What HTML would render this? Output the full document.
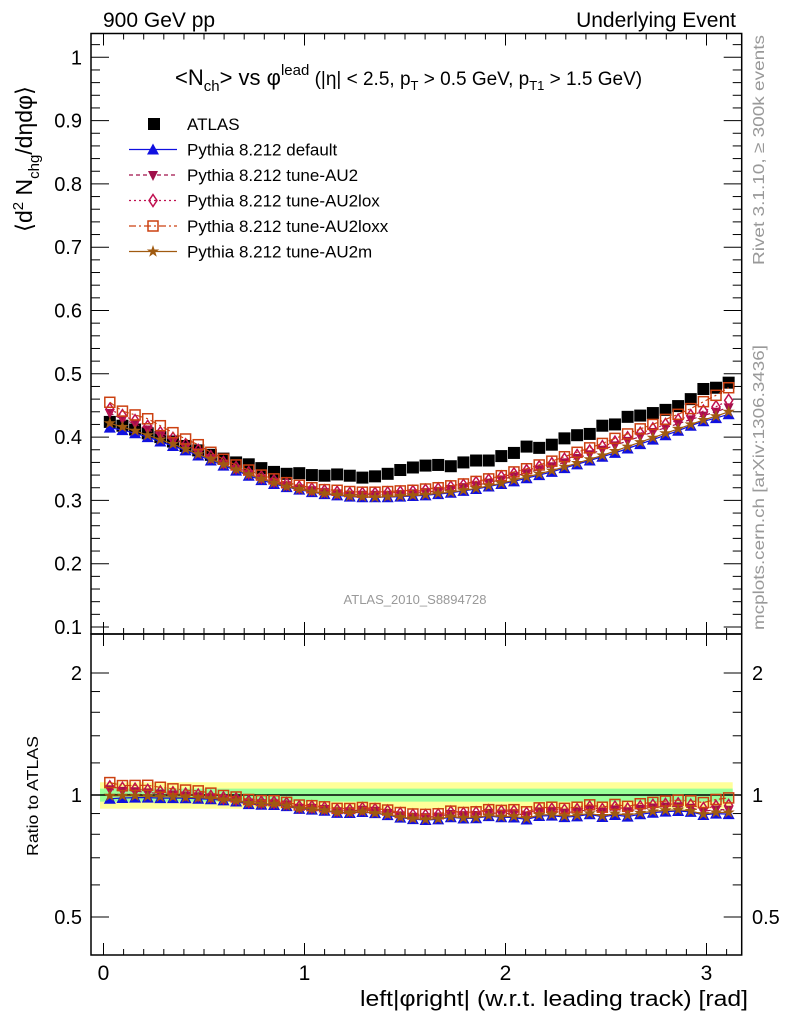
<!DOCTYPE html>
<html><head><meta charset="utf-8"><style>
html,body{margin:0;padding:0;background:#fff;}
svg{display:block;font-family:"Liberation Sans",sans-serif;}
</style></head><body>
<svg id="c" width="786" height="1024" viewBox="0 0 786 1024" xmlns="http://www.w3.org/2000/svg">
<text x="103" y="27" font-size="21">900 GeV pp</text>
<text x="736" y="27" font-size="21" text-anchor="end">Underlying Event</text>
<text transform="translate(764,35) rotate(-90)" font-size="16" fill="#999" text-anchor="end" textLength="230" lengthAdjust="spacingAndGlyphs">Rivet 3.1.10, ≥ 300k events</text>
<text transform="translate(764,630) rotate(-90)" font-size="16" fill="#999" textLength="285" lengthAdjust="spacingAndGlyphs">mcplots.cern.ch [arXiv:1306.3436]</text>
<text transform="translate(32,232) rotate(-90)" font-size="23">⟨d<tspan font-size="15" dy="-9">2</tspan><tspan dy="9"> N</tspan><tspan font-size="15" dy="7">chg</tspan><tspan dy="-7">/dηdφ⟩</tspan></text>
<text transform="translate(38,856) rotate(-90)" font-size="16" textLength="120" lengthAdjust="spacingAndGlyphs">Ratio to ATLAS</text>
<text x="748" y="1006" font-size="22" text-anchor="end" textLength="388" lengthAdjust="spacingAndGlyphs">left|φright| (w.r.t. leading track) [rad]</text>
<text x="175" y="85" font-size="22">&lt;N<tspan font-size="15" dy="6">ch</tspan><tspan dy="-6">&gt; vs φ</tspan><tspan font-size="15" dy="-10">lead</tspan><tspan font-size="19" dy="10"> (|η| &lt; 2.5, p</tspan><tspan font-size="13" dy="5">T</tspan><tspan font-size="19" dy="-5"> &gt; 0.5 GeV, p</tspan><tspan font-size="13" dy="5">T1</tspan><tspan font-size="19" dy="-5"> &gt; 1.5 GeV)</tspan></text>
<text x="415" y="604" font-size="13" fill="#999" text-anchor="middle">ATLAS_2010_S8894728</text>
<g id="bands"></g>
<g id="axes"></g>
<g id="marks"></g>
<g id="legend"></g>
</svg>
<script>
const binCenters=[];for(let i=0;i<50;i++)binCenters.push((i+0.5)*Math.PI/50);
const atlas=[0.424,0.418,0.412,0.406,0.400,0.393,0.386,0.379,0.372,0.366,0.360,0.357,0.351,0.345,0.342,0.343,0.340,0.339,0.341,0.339,0.336,0.338,0.342,0.348,0.352,0.355,0.356,0.354,0.360,0.363,0.363,0.370,0.375,0.385,0.383,0.388,0.398,0.403,0.405,0.418,0.420,0.432,0.434,0.438,0.443,0.449,0.460,0.476,0.478,0.486];
const pyDefault=[0.415,0.411,0.406,0.400,0.393,0.386,0.379,0.371,0.363,0.355,0.347,0.339,0.332,0.326,0.321,0.317,0.313,0.310,0.308,0.306,0.305,0.305,0.305,0.306,0.307,0.308,0.310,0.312,0.315,0.318,0.322,0.326,0.330,0.335,0.340,0.345,0.351,0.357,0.363,0.369,0.375,0.382,0.389,0.396,0.403,0.410,0.418,0.425,0.430,0.436];
const pyAU2=[0.438,0.428,0.421,0.412,0.403,0.394,0.385,0.376,0.367,0.358,0.350,0.342,0.335,0.329,0.324,0.319,0.316,0.313,0.311,0.309,0.309,0.309,0.309,0.310,0.311,0.313,0.315,0.318,0.321,0.324,0.328,0.333,0.338,0.343,0.349,0.354,0.360,0.367,0.373,0.380,0.387,0.394,0.401,0.408,0.415,0.421,0.428,0.434,0.440,0.447];
const pyAU2lox=[0.444,0.434,0.426,0.417,0.407,0.398,0.388,0.379,0.369,0.360,0.352,0.344,0.337,0.331,0.326,0.321,0.318,0.315,0.313,0.311,0.311,0.311,0.312,0.313,0.314,0.316,0.318,0.321,0.324,0.328,0.332,0.337,0.342,0.347,0.353,0.358,0.365,0.371,0.378,0.385,0.392,0.399,0.406,0.413,0.420,0.427,0.434,0.441,0.448,0.458];
const pyAU2loxx=[0.455,0.441,0.435,0.429,0.418,0.407,0.397,0.388,0.376,0.365,0.356,0.348,0.340,0.334,0.328,0.324,0.320,0.317,0.316,0.314,0.313,0.313,0.314,0.315,0.316,0.318,0.320,0.323,0.326,0.330,0.334,0.339,0.345,0.350,0.356,0.362,0.369,0.376,0.383,0.390,0.398,0.405,0.413,0.420,0.428,0.436,0.445,0.456,0.466,0.478];
const pyAU2m=[0.422,0.416,0.410,0.403,0.396,0.389,0.381,0.373,0.365,0.357,0.349,0.341,0.334,0.328,0.322,0.318,0.314,0.311,0.309,0.307,0.306,0.305,0.306,0.307,0.308,0.309,0.311,0.313,0.316,0.319,0.323,0.327,0.332,0.337,0.342,0.347,0.353,0.359,0.365,0.371,0.378,0.385,0.392,0.399,0.406,0.413,0.420,0.427,0.433,0.440];
const xTicks=[0,1,2,3];
const yTicks=[0.1,0.2,0.3,0.4,0.5,0.6,0.7,0.8,0.9,1];
const yTickLabels=["0.1","0.2","0.3","0.4","0.5","0.6","0.7","0.8","0.9","1"];
const rTicks=[0.5,1,2];
const rTickLabels=["0.5","1","2"];
const yellowBand=[0.925,1.075];
const greenBand=[0.963,1.037];

const L=91,R=741.7,T=33.5,MID=634,B=955;
const X=v=>103.5+v*201;
const Y=v=>627-(v-0.1)*633;
const RY=v=>795-Math.log2(v)*122;
const NS='http://www.w3.org/2000/svg';
function mk(tag,at,par){const e=document.createElementNS(NS,tag);for(const k in at)e.setAttribute(k,at[k]);par.appendChild(e);return e;}
const gA=document.getElementById('axes'),gM=document.getElementById('marks'),gB=document.getElementById('bands'),gL=document.getElementById('legend');

let yb=mk('rect',{x:L+9,y:RY(yellowBand[1]),width:R-L-18,height:RY(yellowBand[0])-RY(yellowBand[1]),fill:'#ffff99'},gB);


let gb=mk('rect',{x:L+9,y:RY(greenBand[1]),width:R-L-18,height:RY(greenBand[0])-RY(greenBand[1]),fill:'#99ff99'},gB);


let one=mk('line',{x1:L,x2:R,y1:RY(1),y2:RY(1),stroke:'#000','stroke-width':1.5},gB);



let f1=mk('rect',{x:L,y:T,width:R-L,height:MID-T,fill:'none',stroke:'#000','stroke-width':1.5},gA);


let f2=mk('rect',{x:L,y:MID,width:R-L,height:B-MID,fill:'none',stroke:'#000','stroke-width':1.5},gA);



for(let v=0;v<=3.15;v+=0.1){const maj=Math.abs(v-Math.round(v))<1e-6;const len=maj?12:6;const x=X(v);
 for(const [y0,d] of [[T,1],[MID,-1],[MID,1],[B,-1]]){mk('line',{x1:x,x2:x,y1:y0,y2:y0+d*len,stroke:'#000','stroke-width':1},gA);} }
xTicks.forEach(v=>{const t=mk('text',{x:X(v),y:980,'font-size':21,'text-anchor':'middle'},gA);t.textContent=String(v);
 
 });
for(let v=0.1;v<=1.03;v+=0.02){const maj=Math.abs(v*10-Math.round(v*10))<1e-6;const len=maj?18:9;const y=Y(v);
 mk('line',{x1:L,x2:L+len,y1:y,y2:y,stroke:'#000'},gA);mk('line',{x1:R,x2:R-len,y1:y,y2:y,stroke:'#000'},gA);}
yTicks.forEach((v,i)=>{const t=mk('text',{x:82,y:Y(v)+7,'font-size':20,'text-anchor':'end'},gA);t.textContent=yTickLabels[i];
 
 });
[0.5,0.6,0.7,0.8,0.9,1,1.2,1.4,1.6,1.8,2].forEach(v=>{const maj=rTicks.includes(v);const len=maj?18:9;const y=RY(v);
 mk('line',{x1:L,x2:L+len,y1:y,y2:y,stroke:'#000'},gA);mk('line',{x1:R,x2:R-len,y1:y,y2:y,stroke:'#000'},gA);});
rTicks.forEach((v,i)=>{for(const [x,a] of [[82,'end'],[752,'start']]){const t=mk('text',{x:x,y:RY(v)+7,'font-size':20,'text-anchor':a},gA);t.textContent=rTickLabels[i];
 
 }});

function marker(type,x,y,col,par){
 if(type==='sq')return mk('rect',{x:x-6,y:y-6,width:12,height:12,fill:col},par);
 if(type==='tri')return mk('path',{d:`M${x},${y-6}L${x+6},${y+5}L${x-6},${y+5}Z`,fill:col},par);
 if(type==='itri')return mk('path',{d:`M${x},${y+6}L${x+5},${y-4}L${x-5},${y-4}Z`,fill:col},par);
 if(type==='dia')return mk('path',{d:`M${x},${y-6}L${x+4},${y}L${x},${y+6}L${x-4},${y}Z`,fill:'none',stroke:col,'stroke-width':1.5},par);
 if(type==='osq')return mk('rect',{x:x-5,y:y-5,width:10,height:10,fill:'none',stroke:col,'stroke-width':1.5},par);
 if(type==='star'){let p='';for(let k=0;k<10;k++){const r=k%2?2.5:6.5,a=-Math.PI/2+k*Math.PI/5;p+=(k?'L':'M')+(x+r*Math.cos(a)).toFixed(1)+','+(y+r*Math.sin(a)).toFixed(1);}return mk('path',{d:p+'Z',fill:col},par);}
}
const series=[
 {name:'default',vals:pyDefault,col:'#1010e0',m:'tri',dash:''},
 {name:'au2',vals:pyAU2,col:'#a0104a',m:'itri',dash:'4,3'},
 {name:'au2lox',vals:pyAU2lox,col:'#c01050',m:'dia',dash:'2,3'},
 {name:'au2loxx',vals:pyAU2loxx,col:'#cc4010',m:'osq',dash:'7,3,2,3'},
 {name:'au2m',vals:pyAU2m,col:'#a05a10',m:'star',dash:''}
];
atlas.forEach((v,i)=>{const e=marker('sq',X(binCenters[i]),Y(v),'#000',gM);
 
 });
series.forEach(s=>{
 const pts=s.vals.map((v,i)=>X(binCenters[i]).toFixed(1)+','+Y(v).toFixed(1)).join(' ');
 const pl=mk('polyline',{points:pts,fill:'none',stroke:s.col,'stroke-width':1.2,'stroke-dasharray':s.dash},gM);
 
 
 const rpts=s.vals.map((v,i)=>X(binCenters[i]).toFixed(1)+','+RY(v/atlas[i]).toFixed(1)).join(' ');
 const rl=mk('polyline',{points:rpts,fill:'none',stroke:s.col,'stroke-width':1.2,'stroke-dasharray':s.dash},gM);
 
 
 s.vals.forEach((v,i)=>{const e=marker(s.m,X(binCenters[i]),Y(v),s.col,gM);
  
  
  const r=marker(s.m,X(binCenters[i]),RY(v/atlas[i]),s.col,gM);
  
  });
});
const legNames=['ATLAS','Pythia 8.212 default','Pythia 8.212 tune-AU2','Pythia 8.212 tune-AU2lox','Pythia 8.212 tune-AU2loxx','Pythia 8.212 tune-AU2m'];
legNames.forEach((n,i)=>{const y=124+i*25.5;
 const t=mk('text',{x:187,y:y+6,'font-size':17},gL);t.textContent=n;
 
 
 if(i===0){marker('sq',154,y,'#000',gL);}
 else{const s=series[i-1];mk('line',{x1:129,x2:177,y1:y,y2:y,stroke:s.col,'stroke-width':1.2,'stroke-dasharray':s.dash},gL);marker(s.m,153,y,s.col,gL);}
});
</script>
</body></html>
